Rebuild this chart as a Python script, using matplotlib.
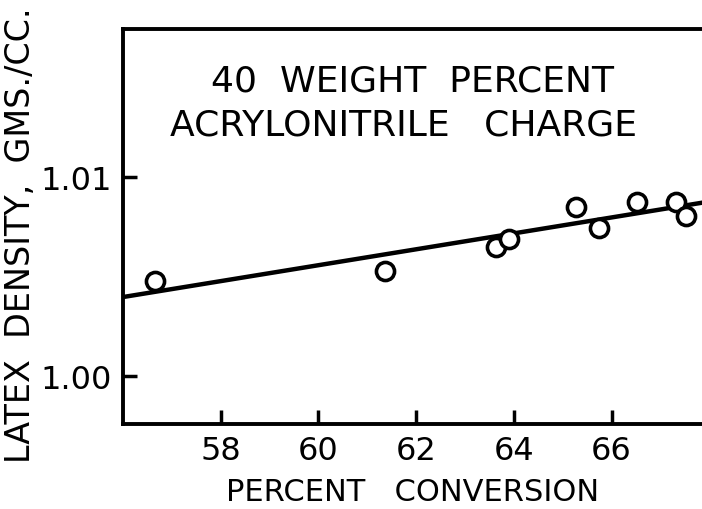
import matplotlib
matplotlib.use("Agg")
import matplotlib.pyplot as plt

# Data
conversion = [56.66, 61.36, 63.63, 63.90, 65.28, 65.75, 66.51, 67.31, 67.52]
density = [1.00479, 1.00529, 1.00647, 1.00688, 1.00848, 1.00742, 1.00876, 1.00873, 1.00806]
fit_x = [56.0, 68.0]
fit_y = [1.00397, 1.00877]
x_ticks = [58, 60, 62, 64, 66]
x_tick_labels = ["58", "60", "62", "64", "66"]
y_ticks = [1.00, 1.01]
y_tick_labels = ["1.00", "1.01"]

fig = plt.figure(figsize=(7.02, 5.10), dpi=100)
ax = fig.add_axes([123/702, 85/510, 1 - 123/702, (425-30)/510])

ax.plot(fit_x, fit_y, color="black", lw=3.2, solid_capstyle="butt", zorder=2)
ax.scatter(conversion, density, s=170, facecolors="white", edgecolors="black",
           linewidths=2.6, zorder=3)

ax.set_xlim(56.0, 67.85)
ax.set_ylim(0.99759, 1.01744)

ax.spines["right"].set_visible(False)
for s in ["left", "bottom", "top"]:
    ax.spines[s].set_linewidth(2.8)

ax.set_xticks(x_ticks)
ax.set_xticklabels(x_tick_labels)
ax.set_yticks(y_ticks)
ax.set_yticklabels(y_tick_labels)
ax.tick_params(axis="both", direction="in", length=10, width=2.5,
               labelsize=23, pad=8)

ax.set_xlabel("PERCENT   CONVERSION", fontsize=22)
ax.xaxis.set_label_coords(0.5, -0.135)
ax.set_ylabel("LATEX  DENSITY,  GMS./CC.", fontsize=24)
ax.yaxis.set_label_coords(-0.148, 0.48)

ax.text(0.5, 0.87, "40  WEIGHT  PERCENT", transform=ax.transAxes,
        ha="center", va="center", fontsize=26)
ax.text(0.485, 0.758, "ACRYLONITRILE   CHARGE", transform=ax.transAxes,
        ha="center", va="center", fontsize=26)

fig.savefig("out.png", dpi=100)
